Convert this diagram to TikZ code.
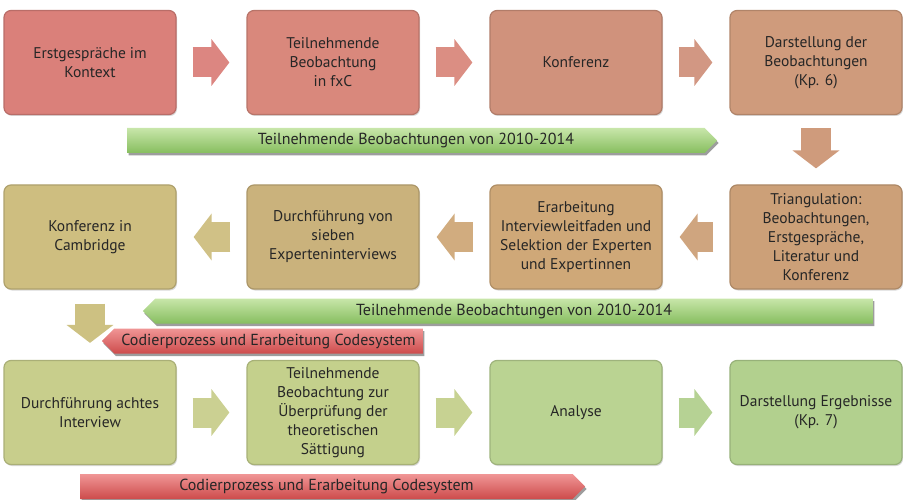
\documentclass[tikz,border=0pt]{standalone}
\usepackage{fontspec}
\setmainfont{PT Sans}
\usetikzlibrary{arrows.meta,shapes.symbols,shadows}
\definecolor{rowAa}{RGB}{218,128,122}
\definecolor{rowAb}{RGB}{217,136,124}
\definecolor{rowAc}{RGB}{208,146,124}
\definecolor{rowAd}{RGB}{207,155,124}
\definecolor{rowBa}{RGB}{204,160,120}
\definecolor{rowBb}{RGB}{207,168,120}
\definecolor{rowBc}{RGB}{202,178,124}
\definecolor{rowBd}{RGB}{206,190,128}
\definecolor{rowCa}{RGB}{200,206,140}
\definecolor{rowCb}{RGB}{196,208,140}
\definecolor{rowCc}{RGB}{186,211,146}
\definecolor{rowCd}{RGB}{178,208,142}
\definecolor{bandgreentop}{RGB}{200,230,170}
\definecolor{bandgreenbot}{RGB}{135,190,95}
\definecolor{bandredtop}{RGB}{240,150,150}
\definecolor{bandredbot}{RGB}{205,75,75}
\tikzstyle{stage}=[rectangle,rounded corners=7pt,minimum width=172pt,minimum height=104pt,align=center,line width=1.2pt,text=black!85,font=\fontsize{15.5}{19}\selectfont,drop shadow={shadow xshift=1pt,shadow yshift=-1.5pt,fill=black!30,opacity=.5}]
\tikzstyle{flow}=[line width=30pt,-{Triangle[width=46pt,length=18pt]}]
\tikzstyle{band}=[signal,signal pointer angle=90,minimum height=25pt,inner sep=0pt,text=black!85,font=\fontsize{16}{18}\selectfont,drop shadow={shadow xshift=1.5pt,shadow yshift=-2.5pt,fill=black!55,opacity=.7}]
\tikzstyle{greenband}=[band,top color=bandgreentop,bottom color=bandgreenbot]
\tikzstyle{redband}=[band,top color=bandredtop,bottom color=bandredbot]
\begin{document}
\begin{tikzpicture}[x=1pt,y=1pt]
  \useasboundingbox (0,0) rectangle (903,-500);
  % first row
  \node[stage,fill=rowAa,draw=rowAa!85!black] (erst) at (90,-62.5) {Erstgespräche im\\Kontext};
  \node[stage,fill=rowAb,draw=rowAb!85!black] (teilnahme) at (333,-62.5) {Teilnehmende\\Beobachtung\\in fxC};
  \node[stage,fill=rowAc,draw=rowAc!85!black] (konferenz) at (576,-62.5) {Konferenz};
  \node[stage,fill=rowAd,draw=rowAd!85!black] (darstellung) at (816,-62.5) {Darstellung der\\Beobachtungen\\(Kp. 6)};
  % second row
  \node[stage,fill=rowBa,draw=rowBa!85!black] (triang) at (816,-237) {Triangulation:\\Beobachtungen,\\Erstgespräche,\\Literatur und\\Konferenz};
  \node[stage,fill=rowBb,draw=rowBb!85!black] (leitfaden) at (576,-237) {Erarbeitung\\Interviewleitfaden und\\Selektion der Experten\\und Expertinnen};
  \node[stage,fill=rowBc,draw=rowBc!85!black] (interviews) at (333,-237) {Durchführung von\\sieben\\Experteninterviews};
  \node[stage,fill=rowBd,draw=rowBd!85!black] (cambridge) at (90,-237) {Konferenz in\\Cambridge};
  % third row
  \node[stage,fill=rowCa,draw=rowCa!85!black] (achtes) at (90,-412.5) {Durchführung achtes\\Interview};
  \node[stage,fill=rowCb,draw=rowCb!85!black] (saettigung) at (333,-412.5) {Teilnehmende\\Beobachtung zur\\Überprüfung der\\theoretischen\\Sättigung};
  \node[stage,fill=rowCc,draw=rowCc!85!black] (analyse) at (576,-412.5) {Analyse};
  \node[stage,fill=rowCd,draw=rowCd!85!black] (ergebnisse) at (816,-412.5) {Darstellung Ergebnisse\\(Kp. 7)};
  % arrows
  \draw[flow,draw=rowAa!95!white,shorten <=16pt,shorten >=17pt] (erst) -- (teilnahme);
  \draw[flow,draw=rowAb!95!white,shorten <=16pt,shorten >=17pt] (teilnahme) -- (konferenz);
  \draw[flow,draw=rowAc!95!white,shorten <=16pt,shorten >=17pt] (konferenz) -- (darstellung);
  \draw[flow,draw=rowAd,shorten <=13pt,shorten >=16pt] (darstellung) -- (triang);
  \draw[flow,draw=rowBa!95!white,shorten <=16pt,shorten >=17pt] (triang) -- (leitfaden);
  \draw[flow,draw=rowBb!95!white,shorten <=16pt,shorten >=17pt] (leitfaden) -- (interviews);
  \draw[flow,draw=rowBd!95!white,shorten <=16pt,shorten >=17pt] (interviews) -- (cambridge);
  \draw[flow,draw=rowBd!80!rowCa,shorten <=14pt,shorten >=17pt] (cambridge) -- (achtes);
  \draw[flow,draw=rowCa!95!white,shorten <=16pt,shorten >=17pt] (achtes) -- (saettigung);
  \draw[flow,draw=rowCb!95!white,shorten <=16pt,shorten >=17pt] (saettigung) -- (analyse);
  \draw[flow,draw=rowCd!95!white,shorten <=16pt,shorten >=17pt] (analyse) -- (ergebnisse);
  % bands
  \node[greenband,signal to=east,minimum width=590pt,anchor=west] (beobA) at (127,-140.5) {Teilnehmende Beobachtungen von 2010-2014};
  \node[greenband,signal to=west,minimum width=730pt,anchor=east] (beobB) at (873,-311) {Teilnehmende Beobachtungen von 2010-2014};
  \node[redband,signal to=west,minimum width=321pt,anchor=east] (codA) at (423,-341) {Codierprozess und Erarbeitung Codesystem};
  \node[redband,signal to=east,minimum width=505pt,anchor=west] (codB) at (80,-486.5) {Codierprozess und Erarbeitung Codesystem};
\end{tikzpicture}
\end{document}
